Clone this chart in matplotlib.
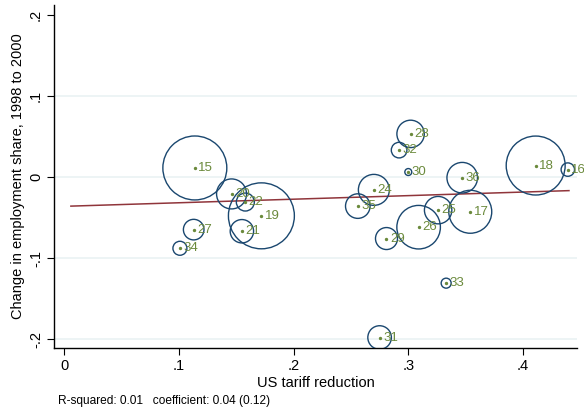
import numpy as np
from matplotlib import pyplot as plt

plt.rcParams['font.family'] = ['Liberation Sans', 'DejaVu Sans']

# industry codes, tariff reduction, change in employment share, bubble weight
codes = ["15", "20", "22", "19", "21", "27", "34", "28", "32", "30", "36",
         "18", "16", "24", "35", "25", "17", "26", "29", "33", "31"]
tariff = [0.114, 0.146, 0.158, 0.172, 0.155, 0.113, 0.101, 0.302, 0.292, 0.300, 0.347,
          0.411, 0.439, 0.270, 0.256, 0.326, 0.354, 0.309, 0.281, 0.333, 0.275]
emp_change = [0.011, -0.021, -0.031, -0.048, -0.067, -0.065, -0.088, 0.053, 0.033, 0.006, -0.001,
              0.014, 0.009, -0.016, -0.036, -0.041, -0.043, -0.062, -0.076, -0.131, -0.198]
weight = [1024, 225, 81, 1089, 137, 106, 49, 188, 61, 12, 234,
          870, 45, 240, 151, 188, 462, 475, 121, 25, 139]

fit_x = [0.006, 0.44]
intercept = -0.0363
slope = 0.044

navy = "#1a476f"
lbl = "#6b8a3c"

fig = plt.figure(figsize=(5.84, 4.09), dpi=100)
ax = fig.add_axes([0.0925, 0.149, 0.8955, 0.839])

ax.scatter(tariff, emp_change, s=np.array(weight) * 2.07, facecolors="none",
           edgecolors=navy, linewidths=1.0, zorder=3)
ax.scatter(tariff, emp_change, s=2, color=lbl, zorder=4)
for c, x, y in zip(codes, tariff, emp_change):
    ax.annotate(c, (x, y), xytext=(2.5, 0), textcoords="offset points",
                ha="left", va="center", color=lbl, fontsize=9.5, zorder=5)

fx = np.array(fit_x)
ax.plot(fx, intercept + slope * fx, color="#90353b", lw=1.1, zorder=2)

ax.set_xlim(-0.0087, 0.447)
ax.set_ylim(-0.211, 0.212)
ax.set_xticks([0, 0.1, 0.2, 0.3, 0.4])
ax.set_xticklabels(["0", ".1", ".2", ".3", ".4"])
ax.set_yticks([-0.2, -0.1, 0, 0.1, 0.2])
ax.set_yticklabels(["-.2", "-.1", "0", ".1", ".2"], rotation=90, va="center")
for g in [-0.2, -0.1, 0, 0.1]:
    ax.axhline(g, color="#eaf2f3", lw=1.2, zorder=0)

for s in ["top", "right"]:
    ax.spines[s].set_visible(False)
ax.spines["left"].set_linewidth(1.0)
ax.spines["bottom"].set_linewidth(1.0)
ax.tick_params(length=5, width=0.8, labelsize=10.5, pad=3)

ax.set_xlabel("US tariff reduction", fontsize=10.5, labelpad=2)
ax.set_ylabel("Change in employment share, 1998 to 2000", fontsize=10.5, labelpad=3)
fig.text(0.099, 0.012, "R-squared: 0.01   coefficient: 0.04 (0.12)", fontsize=8.6)

fig.savefig("out.png")
